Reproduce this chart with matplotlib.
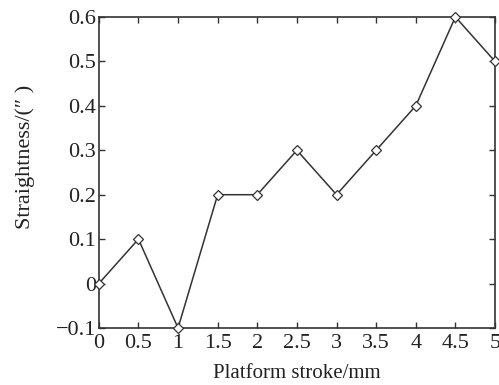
import matplotlib
matplotlib.use("Agg")
import matplotlib.pyplot as plt

stroke = [0, 0.5, 1, 1.5, 2, 2.5, 3, 3.5, 4, 4.5, 5]
straightness = [0, 0.1, -0.1, 0.2, 0.2, 0.3, 0.2, 0.3, 0.4, 0.6, 0.5]
xticks = [0, 0.5, 1, 1.5, 2, 2.5, 3, 3.5, 4, 4.5, 5]
xticklabels = ["0", "0.5", "1", "1.5", "2", "2.5", "3", "3.5", "4", "4.5", "5"]
yticks = [-0.1, 0, 0.1, 0.2, 0.3, 0.4, 0.5, 0.6]
yticklabels = ["\u22120.1", "0", "0.1", "0.2", "0.3", "0.4", "0.5", "0.6"]

plt.rcParams['font.family'] = ['Liberation Serif', 'DejaVu Serif']

fig = plt.figure(figsize=(4.99, 3.85), dpi=100)
ax = fig.add_axes([0.198, 0.148, 0.794, 0.808])
ax.plot(stroke, straightness, color='#333333', lw=1.1, marker='D', ms=5,
        mfc='white', mec='#333333', mew=0.9, clip_on=False, zorder=3)
ax.set_xlim(0, 5)
ax.set_ylim(-0.1, 0.6)
ax.set_xticks(xticks)
ax.set_xticklabels(xticklabels)
ax.set_yticks(yticks)
ax.set_yticklabels(yticklabels)
ax.tick_params(direction='in', top=True, right=True, length=4, width=1,
               labelsize=16, color='#333333', labelcolor='#222222')
ax.tick_params(axis='x', pad=4)
ax.tick_params(axis='y', pad=2)
for s in ax.spines.values():
    s.set_linewidth(1.2)
    s.set_color('#333333')
ax.set_xlabel("Platform stroke/mm", fontsize=15, color='#222222')
ax.xaxis.set_label_coords(0.5, -0.115)
ax.set_ylabel("Straightness/(\u2033 )", fontsize=16, color='#222222')
ax.yaxis.set_label_coords(-0.16, 0.55)
fig.savefig("out.png", dpi=100)
